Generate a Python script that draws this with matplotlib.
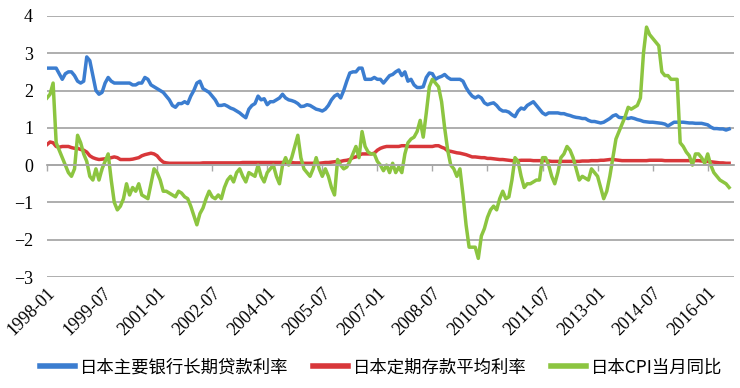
import numpy as np
import pandas as pd
import matplotlib
matplotlib.use('Agg')
import matplotlib.pyplot as plt

# monthly data, 1998-01 .. 2016-08
months = pd.date_range('1998-01-01', periods=224, freq='MS').strftime('%Y-%m')

loan_rate = [
    2.6, 2.6, 2.6, 2.6, 2.45, 2.3, 2.45, 2.5, 2.5, 2.4, 2.25, 2.2,
    2.25, 2.9, 2.8, 2.4, 2.0, 1.9, 1.95, 2.2, 2.35, 2.25, 2.2, 2.2,
    2.2, 2.2, 2.2, 2.2, 2.15, 2.15, 2.2, 2.2, 2.35, 2.3, 2.15, 2.1,
    2.05, 2.0, 1.95, 1.85, 1.75, 1.6, 1.55, 1.65, 1.65, 1.7, 1.65, 1.85,
    2.0, 2.2, 2.25, 2.05, 2.0, 1.95, 1.85, 1.75, 1.6, 1.6, 1.62, 1.58,
    1.53, 1.5, 1.45, 1.4, 1.33, 1.27, 1.5, 1.6, 1.65, 1.85, 1.75, 1.78,
    1.62, 1.7, 1.7, 1.75, 1.8, 1.9, 1.8, 1.75, 1.73, 1.7, 1.65, 1.57,
    1.58, 1.62, 1.6, 1.55, 1.5, 1.48, 1.45, 1.5, 1.6, 1.75, 1.85, 1.9,
    1.8, 2.0, 2.25, 2.47, 2.5, 2.5, 2.6, 2.6, 2.3, 2.3, 2.3, 2.35,
    2.3, 2.3, 2.2, 2.3, 2.4, 2.43, 2.5, 2.55, 2.4, 2.5, 2.25, 2.3,
    2.15, 2.08, 2.08, 2.1, 2.35, 2.47, 2.45, 2.3, 2.35, 2.38, 2.43, 2.35,
    2.3, 2.3, 2.3, 2.3, 2.25, 2.08, 1.95, 1.85, 1.8, 1.85, 1.8, 1.67,
    1.62, 1.65, 1.67, 1.6, 1.5, 1.45, 1.45, 1.42, 1.35, 1.3, 1.45, 1.53,
    1.5, 1.6, 1.65, 1.7, 1.6, 1.5, 1.4, 1.35, 1.4, 1.4, 1.4, 1.4,
    1.38, 1.38, 1.35, 1.33, 1.3, 1.28, 1.27, 1.25, 1.25, 1.2, 1.17, 1.17,
    1.15, 1.13, 1.15, 1.2, 1.25, 1.32, 1.35, 1.28, 1.27, 1.27, 1.25, 1.27,
    1.25, 1.22, 1.2, 1.17, 1.16, 1.15, 1.15, 1.14, 1.13, 1.12, 1.1, 1.05,
    1.1, 1.15, 1.15, 1.15, 1.15, 1.14, 1.13, 1.13, 1.12, 1.12, 1.12, 1.1,
    1.08, 1.02, 0.98, 0.98, 0.97, 0.97, 0.94, 0.97,
]

deposit_rate = [
    0.55, 0.62, 0.6, 0.5, 0.48, 0.5, 0.5, 0.5, 0.47, 0.45, 0.45, 0.42,
    0.4, 0.35, 0.25, 0.2, 0.17, 0.15, 0.16, 0.17, 0.18, 0.2, 0.22, 0.2,
    0.15, 0.15, 0.15, 0.15, 0.16, 0.18, 0.2, 0.25, 0.28, 0.3, 0.32, 0.3,
    0.25, 0.15, 0.08, 0.06, 0.05, 0.05, 0.05, 0.05, 0.05, 0.05, 0.05, 0.05,
    0.05, 0.05, 0.05, 0.06, 0.06, 0.06, 0.06, 0.06, 0.06, 0.06, 0.06, 0.06,
    0.06, 0.06, 0.06, 0.06, 0.07, 0.07, 0.07, 0.07, 0.07, 0.07, 0.07, 0.07,
    0.07, 0.07, 0.07, 0.07, 0.07, 0.07, 0.07, 0.07, 0.07, 0.06, 0.06, 0.06,
    0.05, 0.05, 0.05, 0.05, 0.05, 0.05, 0.06, 0.07, 0.07, 0.08, 0.09, 0.1,
    0.1, 0.12, 0.13, 0.15, 0.2, 0.22, 0.27, 0.3, 0.3, 0.3, 0.3, 0.32,
    0.4, 0.45, 0.48, 0.5, 0.5, 0.5, 0.5, 0.5, 0.52, 0.52, 0.5, 0.5,
    0.5, 0.5, 0.5, 0.5, 0.5, 0.5, 0.5, 0.52, 0.52, 0.48, 0.45, 0.38,
    0.37, 0.35, 0.33, 0.32, 0.3, 0.28, 0.25, 0.22, 0.22, 0.21, 0.2, 0.2,
    0.18, 0.18, 0.17, 0.16, 0.15, 0.15, 0.14, 0.13, 0.12, 0.12, 0.12, 0.13,
    0.13, 0.13, 0.13, 0.12, 0.12, 0.12, 0.12, 0.12, 0.11, 0.1, 0.1, 0.1,
    0.1, 0.1, 0.1, 0.1, 0.1, 0.1, 0.1, 0.11, 0.11, 0.11, 0.12, 0.12,
    0.12, 0.13, 0.13, 0.14, 0.15, 0.15, 0.14, 0.13, 0.12, 0.12, 0.12, 0.12,
    0.12, 0.12, 0.12, 0.12, 0.12, 0.13, 0.13, 0.13, 0.13, 0.13, 0.12, 0.12,
    0.12, 0.12, 0.12, 0.12, 0.12, 0.12, 0.12, 0.12, 0.12, 0.12, 0.11, 0.1,
    0.1, 0.09, 0.08, 0.07, 0.06, 0.06, 0.05, 0.05,
]

cpi_yoy = [
    1.8, 1.9, 2.2, 0.6, 0.4, 0.2, 0.0, -0.2, -0.3, -0.1, 0.8, 0.6,
    0.3, 0.1, -0.3, -0.4, -0.1, -0.4, -0.1, 0.1, 0.3, -0.4, -1.0, -1.2,
    -1.1, -0.9, -0.5, -0.8, -0.6, -0.7, -0.5, -0.8, -0.85, -0.9, -0.5, -0.1,
    -0.2, -0.4, -0.7, -0.7, -0.75, -0.8, -0.85, -0.7, -0.75, -0.85, -0.9, -1.1,
    -1.35, -1.6, -1.3, -1.15, -0.9, -0.7, -0.85, -0.9, -0.8, -0.9, -0.6, -0.4,
    -0.3, -0.45, -0.2, -0.1, -0.3, -0.45, -0.2, -0.25, -0.3, 0.0, -0.3, -0.45,
    -0.2, -0.1, 0.0, -0.3, -0.5, 0.0, 0.2, 0.0, 0.2, 0.5, 0.8, 0.2,
    -0.1, -0.2, -0.3, -0.1, 0.2, -0.1, -0.3, -0.1, -0.3, -0.6, -0.8, 0.15,
    0.0, -0.1, -0.05, 0.1, 0.3, 0.5, 0.2, 0.9, 0.5, 0.35, 0.3, 0.3,
    0.1, 0.0, -0.15, 0.0, -0.2, 0.05, -0.2, -0.05, -0.2, 0.3, 0.6, 0.7,
    0.75, 0.9, 1.2, 0.75, 1.4, 2.1, 2.3, 2.2, 2.1, 1.7, 1.0, 0.4,
    0.0, -0.1, -0.3, -0.1, -0.8, -1.6, -2.2, -2.2, -2.2, -2.5, -1.9, -1.7,
    -1.4, -1.2, -1.1, -1.2, -0.9, -0.7, -0.9, -0.85, -0.4, 0.2, 0.1, -0.3,
    -0.6, -0.5, -0.5, -0.45, -0.4, -0.4, 0.2, 0.2, 0.0, -0.3, -0.5, -0.2,
    0.2, 0.3, 0.5, 0.4, 0.2, -0.1, -0.4, -0.3, -0.35, -0.4, -0.1, -0.2,
    -0.3, -0.6, -0.9, -0.7, -0.3, 0.2, 0.7, 0.9, 1.1, 1.3, 1.55, 1.5,
    1.55, 1.6, 1.8, 3.0, 3.7, 3.5, 3.4, 3.3, 3.2, 2.5, 2.4, 2.4,
    2.3, 2.3, 2.3, 0.6, 0.5, 0.35, 0.25, 0.0, 0.3, 0.3, 0.2, 0.05,
    0.3, 0.0, -0.2, -0.3, -0.4, -0.45, -0.5, -0.6,
]

labels = ['日本主要银行长期贷款利率', '日本定期存款平均利率', '日本CPI当月同比']
colors = ['#3b7dd0', '#d8373a', '#8cc540']

x = np.arange(len(months))
tick_pos = x[::18]
tick_labels = months[::18]

plt.rcParams['font.family'] = ['Liberation Serif', 'DejaVu Serif']

fig = plt.figure(figsize=(7.4, 3.88), dpi=100)
ax = fig.add_axes([0.0635, 0.286, 0.928, 0.673])

for series, lab, col in zip([loan_rate, deposit_rate, cpi_yoy], labels, colors):
    ax.plot(x, series, color=col, lw=2.5, label=lab, solid_joinstyle='round')

ax.set_ylim(-3, 4)
ax.set_xlim(0, len(months) + 0.5)
ax.set_yticks(range(-3, 5))
ax.yaxis.grid(True, color='#a8a8a8', lw=1.3)
ax.set_axisbelow(True)
for s in ['top', 'right', 'left']:
    ax.spines[s].set_visible(False)
ax.spines['bottom'].set_position(('data', 0))
ax.spines['bottom'].set_color('#a8a8a8')
ax.spines['bottom'].set_linewidth(1.3)
ax.tick_params(axis='y', length=0, labelsize=13, pad=10, labelfontfamily='Liberation Serif')
ax.tick_params(axis='x', length=4, color='#a8a8a8', width=1, labelsize=13, pad=82,
               labelfontfamily='Liberation Serif')
ax.set_xticks(tick_pos)
ax.set_xticklabels(tick_labels, rotation=45, ha='right', rotation_mode='anchor')

leg = fig.legend(loc='lower center', bbox_to_anchor=(0.515, -0.01), ncol=3, frameon=False,
                 prop={'family': ['Noto Sans CJK SC', 'DejaVu Sans'], 'size': 12.5},
                 handlelength=2.0, columnspacing=1.4, handletextpad=0.3)
for line in leg.get_lines():
    line.set_linewidth(4)

fig.savefig('out.png', dpi=100)
